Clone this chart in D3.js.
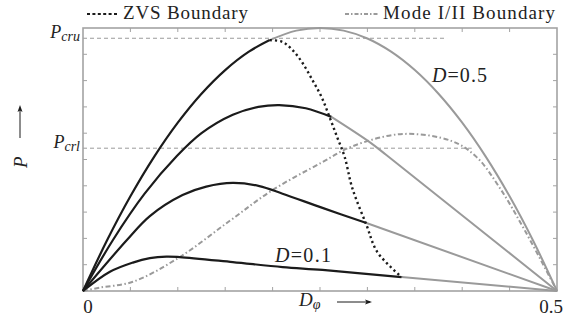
<!DOCTYPE html>
<html>
<head>
<meta charset="utf-8">
<script src="https://cdn.jsdelivr.net/npm/d3@7"></script>
<style>
  body { margin: 0; background: #fff; }
</style>
</head>
<body>
<div id="vis"></div>
<script>
// axis ticks (10 divisions each way)
var xTicks = d3.range(0, 0.5001, 0.05);
var yTicks = d3.range(0, 1.0001, 0.1);

// D = 0.5 curve : black while ZVS holds, grey after
var d05Zvs = [[0, 0], [0.025, 0.19], [0.05, 0.36], [0.075, 0.51], [0.1, 0.64], [0.125, 0.75],
  [0.15, 0.84], [0.175, 0.91], [0.197, 0.954]];
var d05Hard = [[0.197, 0.954], [0.225, 0.99], [0.25, 1], [0.275, 0.99], [0.3, 0.96], [0.325, 0.91],
  [0.35, 0.84], [0.375, 0.75], [0.4, 0.64], [0.425, 0.51], [0.45, 0.36], [0.475, 0.19], [0.5, 0]];

// second curve
var dBZvs = [[0, 0], [0.0316, 0.194], [0.065, 0.37], [0.099, 0.513], [0.125, 0.6], [0.158, 0.67],
  [0.185, 0.7], [0.207, 0.707], [0.235, 0.695], [0.262, 0.662]];
var dBHard = [[0.262, 0.662], [0.302, 0.567], [0.32, 0.517], [0.5, 0]];

// third curve
var dCZvs = [[0, 0], [0.0463, 0.194], [0.0705, 0.285], [0.105, 0.365], [0.13, 0.397], [0.158, 0.411],
  [0.186, 0.399], [0.2105, 0.37], [0.2526, 0.316], [0.299, 0.2586]];
var dCHard = [[0.299, 0.2586], [0.5, 0]];

// D = 0.1 curve
var d01Zvs = [[0, 0], [0.0284, 0.073], [0.0526, 0.108], [0.0705, 0.125], [0.088, 0.131], [0.102, 0.129],
  [0.158, 0.110], [0.2105, 0.091], [0.2526, 0.080], [0.336, 0.053]];
var d01Hard = [[0.336, 0.053], [0.5, 0]];

// boundaries
var zvsBoundary = [[0.197, 0.954], [0.2105, 0.947], [0.221, 0.916], [0.2316, 0.867], [0.242, 0.802],
  [0.2516, 0.738], [0.26, 0.662], [0.268, 0.586], [0.276, 0.51], [0.284, 0.392], [0.299, 0.251],
  [0.3105, 0.148], [0.336, 0.053]];
var modeBoundary = [[0, 0], [0.0179, 0.013], [0.0526, 0.035], [0.102, 0.129], [0.1545, 0.266],
  [0.2, 0.384], [0.2526, 0.49], [0.284, 0.55], [0.337, 0.597], [0.389, 0.57], [0.415, 0.51],
  [0.44, 0.39], [0.467, 0.224], [0.5, 0]];

// reference levels
var pCru = 0.961, pCruEnd = 0.384;
var pCrl = 0.543, pCrlEnd = 0.41;

var width = 577, height = 326;
var margin = { top: 28, left: 83, bottom: 35, right: 19 };
var black = '#1b1b1b', grey = '#9a9a9a', frame = '#a3a3a3', ink = '#222';

var svg = d3.select('#vis').append('svg')
  .attr('width', width)
  .attr('height', height);

var x = d3.scaleLinear().domain([0, 0.5]).range([margin.left, width - margin.right - 1]);
var y = d3.scaleLinear().domain([0, 1]).range([height - margin.bottom, margin.top]);

var line = d3.line()
  .x(function(d) { return x(d[0]); })
  .y(function(d) { return y(d[1]); })
  .curve(d3.curveCatmullRom.alpha(0.5));

// critical power lines
[[pCru, pCruEnd], [pCrl, pCrlEnd]].forEach(function(p) {
  svg.append('line')
    .attr('x1', x(0)).attr('x2', x(p[1]))
    .attr('y1', y(p[0])).attr('y2', y(p[0]))
    .attr('stroke', grey).attr('stroke-width', 1)
    .attr('stroke-dasharray', '4,3');
});

// frame + inward ticks
svg.append('rect')
  .attr('x', x(0)).attr('y', y(1))
  .attr('width', x(0.5) - x(0)).attr('height', y(0) - y(1))
  .attr('fill', 'none').attr('stroke', frame).attr('stroke-width', 1.6);

var tk = svg.append('g').attr('stroke', frame).attr('stroke-width', 1);
xTicks.slice(1, -1).forEach(function(t) {
  tk.append('line').attr('x1', x(t)).attr('x2', x(t)).attr('y1', y(0)).attr('y2', y(0) - 4);
  tk.append('line').attr('x1', x(t)).attr('x2', x(t)).attr('y1', y(1)).attr('y2', y(1) + 4);
});
yTicks.slice(1, -1).forEach(function(t) {
  tk.append('line').attr('y1', y(t)).attr('y2', y(t)).attr('x1', x(0)).attr('x2', x(0) + 4);
  tk.append('line').attr('y1', y(t)).attr('y2', y(t)).attr('x1', x(0.5)).attr('x2', x(0.5) - 4);
});

// mode boundary (grey dash-dot)
svg.append('path').datum(modeBoundary)
  .attr('d', line).attr('fill', 'none')
  .attr('stroke', grey).attr('stroke-width', 2)
  .attr('stroke-dasharray', '5,2.5,1.5,2.5');

// grey (hard switching) parts
[d05Hard, dBHard, dCHard, d01Hard].forEach(function(s) {
  svg.append('path').datum(s)
    .attr('d', line).attr('fill', 'none')
    .attr('stroke', grey).attr('stroke-width', 2);
});

// black (ZVS) parts
[d05Zvs, dBZvs, dCZvs, d01Zvs].forEach(function(s) {
  svg.append('path').datum(s)
    .attr('d', line).attr('fill', 'none')
    .attr('stroke', black).attr('stroke-width', 2.2);
});

// ZVS boundary (black dotted)
svg.append('path').datum(zvsBoundary)
  .attr('d', line).attr('fill', 'none')
  .attr('stroke', black).attr('stroke-width', 2.4)
  .attr('stroke-dasharray', '2.2,3');

// legend
svg.append('line')
  .attr('x1', 87).attr('x2', 117).attr('y1', 14).attr('y2', 14)
  .attr('stroke', black).attr('stroke-width', 2)
  .attr('stroke-dasharray', '3,2.4');
svg.append('text').attr('x', 123).attr('y', 19)
  .attr('font-size', 19).attr('textLength', 125).attr('lengthAdjust', 'spacing')
  .attr('fill', ink)
  .text('ZVS Boundary');

svg.append('line')
  .attr('x1', 345).attr('x2', 378).attr('y1', 14).attr('y2', 14)
  .attr('stroke', grey).attr('stroke-width', 2)
  .attr('stroke-dasharray', '4,2,1.5,2');
svg.append('text').attr('x', 383).attr('y', 19)
  .attr('font-size', 19).attr('textLength', 172).attr('lengthAdjust', 'spacing')
  .attr('fill', ink)
  .text('Mode I/II Boundary');

// P_cru / P_crl labels
function pLabel(sub, yy) {
  var t = svg.append('text').attr('x', 80).attr('y', yy).attr('fill', ink)
    .attr('text-anchor', 'end').attr('font-size', 18).attr('font-style', 'italic');
  t.append('tspan').text('P');
  t.append('tspan').attr('font-size', 14).attr('dy', 3).text(sub);
}
pLabel('cru', 38);
pLabel('crl', 148);

// curve labels
function dLabel(val, xx, yy, w) {
  var t = svg.append('text').attr('x', xx).attr('y', yy).attr('font-size', 20).attr('fill', ink)
    .attr('textLength', w).attr('lengthAdjust', 'spacing');
  t.append('tspan').attr('font-style', 'italic').text('D');
  t.append('tspan').text('=' + val);
}
dLabel('0.5', 432, 82, 55);
dLabel('0.1', 275, 262, 56);

// tick labels
svg.append('text').attr('x', 88).attr('y', 313).attr('text-anchor', 'middle')
  .attr('font-size', 19).attr('fill', ink).text('0');
svg.append('text').attr('x', 551).attr('y', 313).attr('text-anchor', 'middle')
  .attr('font-size', 19).attr('fill', ink).text('0.5');

// x axis label
var xl = svg.append('text').attr('x', 299).attr('y', 306).attr('font-size', 19).attr('fill', ink);
xl.append('tspan').attr('font-style', 'italic').text('D');
xl.append('tspan').attr('font-size', 14).attr('font-style', 'italic').attr('dy', 3).text('φ');
svg.append('line').attr('x1', 337).attr('x2', 370).attr('y1', 302).attr('y2', 302)
  .attr('stroke', black).attr('stroke-width', 1);
svg.append('path').attr('d', 'M372,302 L365,299.5 L366.5,302 L365,304.5 Z').attr('fill', black);

// y axis label
svg.append('text').attr('transform', 'translate(27,168) rotate(-90)').attr('fill', ink)
  .attr('font-size', 19).attr('font-style', 'italic').text('P');
svg.append('line').attr('x1', 20).attr('x2', 20).attr('y1', 138).attr('y2', 108)
  .attr('stroke', black).attr('stroke-width', 1);
svg.append('path').attr('d', 'M20,105 L17.5,112 L20,110.5 L22.5,112 Z').attr('fill', black);

// serif face on every label
svg.selectAll('text, tspan').style('font-family', 'Liberation Serif');
</script>
</body>
</html>
